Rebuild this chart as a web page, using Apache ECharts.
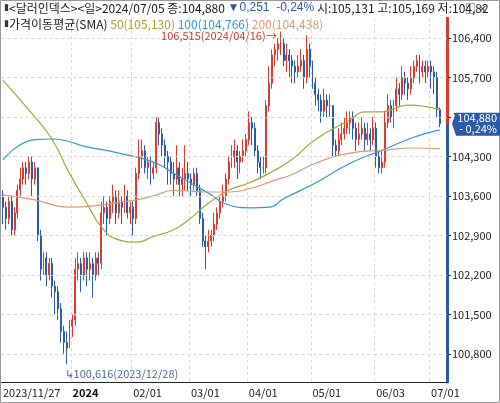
<!DOCTYPE html>
<html>
<head>
<meta charset="utf-8">
<script src="https://cdn.jsdelivr.net/npm/echarts@6/dist/echarts.min.js"></script>
<style>
  html, body { margin: 0; padding: 0; background: #fff; }
  #main { width: 500px; height: 403px; }
</style>
</head>
<body>
<div id="main"></div>
<script>
// 거래일: 2023/11/27 ~ 2024/07/05 (미국 휴장일 제외)
var holidays = ['2023-12-25', '2024-01-01', '2024-01-15', '2024-02-19', '2024-03-29', '2024-05-27', '2024-06-19', '2024-07-04'];
var dates = [];
for (var d = new Date(Date.UTC(2023, 10, 27)); d <= new Date(Date.UTC(2024, 6, 5)); d.setUTCDate(d.getUTCDate() + 1)) {
  var s = d.toISOString().slice(0, 10);
  var wd = d.getUTCDay();
  if (wd !== 0 && wd !== 6 && holidays.indexOf(s) < 0) dates.push(s);
}
// 오른쪽 여백
dates.push(' ', '  ');

// [시가, 종가, 저가, 고가]
var candles = [
  [103.6,103.4,103.1,103.7],[103.4,103.2,103.0,103.5],[103.2,103.5,103.1,103.6],[103.5,103.0,102.9,103.6],[103.0,103.3,102.9,103.4],
  [103.3,103.7,103.2,103.8],[103.7,103.9,103.6,104.1],[103.9,104.1,103.8,104.2],[104.1,104.0,103.8,104.2],[104.0,104.2,103.9,104.3],
  [104.2,103.9,103.6,104.3],[103.9,104.1,103.8,104.2],[104.1,102.9,102.8,104.1],[102.9,102.3,102.1,103.0],[102.3,102.5,102.2,102.6],
  [102.5,102.2,102.0,102.6],[102.2,102.4,102.1,102.5],[102.4,102.0,101.8,102.5],[102.0,101.9,101.5,102.1],[101.9,101.6,101.4,102.0],
  [101.6,101.2,101.0,101.7],[101.2,101.0,100.8,101.3],[101.0,100.9,100.616,101.2],[100.9,101.3,100.9,101.4],
  // 1월
  [101.3,101.4,101.1,101.5],[101.4,102.3,101.3,102.5],[102.3,102.4,102.1,102.6],[102.4,102.2,101.9,102.5],[102.2,102.5,102.1,102.6],
  [102.5,102.3,102.0,102.6],[102.3,102.4,102.1,102.6],[102.4,102.2,101.8,102.5],[102.2,102.5,102.1,102.6],[102.5,102.4,102.2,102.6],
  [102.4,103.3,102.3,103.5],[103.3,103.4,103.1,103.6],[103.4,103.2,102.9,103.5],[103.2,103.5,103.1,103.6],[103.5,103.6,103.3,103.8],
  [103.6,103.3,103.1,103.7],[103.3,103.5,103.2,103.7],[103.5,103.4,103.1,103.6],[103.4,103.6,103.3,103.8],[103.6,103.3,103.2,103.7],
  [103.3,103.4,103.1,103.5],
  // 2월
  [103.4,103.2,102.9,103.5],[103.2,104.0,103.1,104.1],[104.0,104.3,103.9,104.6],[104.3,104.4,104.1,104.6],[104.4,104.1,104.0,104.5],
  [104.1,104.2,103.9,104.3],[104.2,104.0,103.8,104.3],[104.0,104.1,103.9,104.2],[104.1,104.9,104.0,105.0],[104.9,104.7,104.5,105.0],
  [104.7,104.5,104.3,104.8],[104.5,104.3,104.1,104.6],[104.3,104.2,103.8,104.4],[104.2,104.0,103.8,104.3],[104.0,103.9,103.6,104.2],
  [103.9,104.1,103.8,104.5],[104.1,103.8,103.6,104.2],[103.8,103.9,103.6,104.1],[103.9,104.0,103.7,104.5],[104.0,103.9,103.7,104.2],
  // 3월
  [103.9,103.8,103.6,104.0],[103.8,104.0,103.7,104.1],[104.0,103.7,103.6,104.1],[103.7,103.2,103.1,103.8],[103.2,102.8,102.7,103.3],
  [102.8,102.7,102.3,102.9],[102.7,102.8,102.6,103.0],[102.8,102.9,102.7,103.0],[102.9,103.1,102.8,103.3],[103.1,103.3,103.0,103.4],
  [103.3,103.5,103.2,103.6],[103.5,103.6,103.4,103.8],[103.6,103.9,103.5,104.0],[103.9,104.2,103.8,104.3],[104.2,104.3,104.1,104.5],
  [104.3,104.4,104.1,104.6],[104.4,104.2,103.9,104.5],[104.2,104.3,104.0,104.4],[104.3,104.4,104.2,104.6],[104.4,104.6,104.3,104.7],
  // 4월
  [104.6,104.9,104.5,105.1],[104.9,104.8,104.5,105.0],[104.8,104.4,104.3,104.9],[104.4,104.2,104.0,104.5],[104.2,104.1,103.9,104.3],
  [104.1,104.1,104.0,104.3],[104.1,105.2,104.0,105.3],[105.2,105.6,105.1,105.9],[105.6,106.1,105.5,106.2],[106.1,106.2,105.9,106.3],
  [106.2,106.3,106.0,106.4],[106.3,106.3,106.1,106.515],[106.3,106.0,105.9,106.4],[106.0,106.1,105.8,106.3],[106.1,106.0,105.7,106.2],
  [106.0,105.9,105.6,106.1],[105.9,105.8,105.6,106.0],[105.8,105.9,105.7,106.1],[105.9,106.0,105.8,106.2],[106.0,105.7,105.5,106.1],
  [105.7,106.2,105.6,106.45],[106.2,105.9,105.7,106.3],
  // 5월
  [105.9,105.6,105.5,106.0],[105.6,105.4,105.2,105.7],[105.4,105.3,105.1,105.5],[105.3,105.1,104.9,105.4],[105.1,105.3,105.0,105.5],
  [105.3,105.2,105.0,105.4],[105.2,105.2,105.0,105.4],[105.2,104.5,104.3,105.2],[104.5,104.4,104.3,104.6],[104.4,104.6,104.3,104.8],
  [104.6,104.7,104.5,104.9],[104.7,104.8,104.6,105.0],[104.8,104.9,104.7,105.1],[104.9,105.0,104.7,105.1],[105.0,104.8,104.6,105.1],
  [104.8,104.6,104.4,104.9],[104.6,104.7,104.5,104.9],[104.7,104.8,104.6,105.0],[104.8,104.6,104.4,104.9],[104.6,104.7,104.5,104.9],
  [104.7,104.6,104.4,104.8],[104.6,104.8,104.5,105.0],
  // 6월
  [104.8,104.3,104.1,104.9],[104.3,104.1,104.0,104.4],[104.1,104.2,104.0,104.4],[104.2,104.9,104.1,105.1],[104.9,105.2,104.8,105.4],
  [105.2,105.0,104.9,105.3],[105.0,105.2,104.8,105.3],[105.2,105.5,105.1,105.7],[105.5,105.4,105.2,105.6],[105.4,105.7,105.3,105.9],
  [105.7,105.6,105.4,105.8],[105.6,105.5,105.3,105.7],[105.5,105.7,105.4,105.9],[105.7,105.9,105.6,106.0],[105.9,106.0,105.8,106.1],
  [106.0,105.8,105.6,106.1],[105.8,105.9,105.7,106.0],[105.9,105.8,105.6,106.0],[105.8,105.9,105.7,106.0],
  // 7월
  [105.9,105.8,105.5,106.0],[105.8,105.7,105.4,105.9],[105.7,105.13,105.0,105.8],[105.131,104.88,104.82,105.169]
];

// 이동평균 (거래일 인덱스, 값)
var sma50 = [[0,105.65],[11,105.0],[17,104.6],[23,104.0],[29,103.47],[34,103.05],[40,102.82],[46,102.78],[52,102.88],[59,103.0],
  [64,103.17],[71,103.47],[78,103.7],[85,103.83],[92,104.0],[100,104.25],[108,104.6],[120,104.95],[125,105.09],[131,105.09],[140,105.21],[151,105.13]];
var sma100 = [[0,104.24],[11,104.6],[17,104.61],[29,104.47],[40,104.36],[52,104.2],[59,104.0],[71,103.65],[78,103.44],[86,103.39],
  [92,103.4],[97,103.55],[108,103.83],[120,104.18],[131,104.41],[142,104.64],[151,104.77]];
var sma200 = [[0,103.62],[11,103.53],[23,103.4],[34,103.44],[46,103.53],[52,103.6],[59,103.7],[71,103.67],[78,103.67],[86,103.74],
  [94,103.88],[100,103.98],[108,104.18],[120,104.36],[131,104.41],[142,104.45],[151,104.44]];

var yTicks = [100.8, 101.5, 102.2, 102.9, 103.6, 104.3, 105.0, 105.7, 106.4];
var xLabelDates = ['2023-11-27', '2024-01-02', '2024-02-01', '2024-03-01', '2024-04-01', '2024-05-01', '2024-06-03', '2024-07-01'];

var lastClose = 104.88;
var yMin = 100.301, yMax = 106.755;
var stopPos = (yMax - lastClose) / (yMax - yMin);

function fmt(v) { return v.toFixed(3).replace('.', ','); }

var myChart = echarts.init(document.getElementById('main'));
var font = '"Noto Sans CJK KR", sans-serif';

var option = {
  animation: false,
  textStyle: { fontFamily: font },
  grid: { left: -3, right: 53, top: 18, bottom: 21 },
  xAxis: {
    type: 'category',
    data: dates,
    boundaryGap: true,
    axisLine: { lineStyle: { color: '#222', width: 1 } },
    axisTick: { show: false },
    splitLine: {
      show: true,
      interval: function (i, v) { return xLabelDates.indexOf(v) > 0; },
      lineStyle: { color: '#d8d8d8', type: [3, 3] }
    },
    axisLabel: {
      interval: function (i, v) { return xLabelDates.indexOf(v) >= 0; },
      align: 'left',
      margin: 5,
      fontSize: 11,
      color: '#222',
      formatter: function (v) {
        if (v === '2023-11-27') return '2023/11/27';
        if (v === '2024-01-02') return '{b|2024}';
        return v.slice(5).replace('-', '/');
      },
      rich: { b: { fontWeight: 'bold', fontSize: 11, color: '#111' } }
    }
  },
  yAxis: {
    type: 'value',
    position: 'right',
    min: yMin,
    max: yMax,
    scale: true,
    axisLine: {
      show: true,
      lineStyle: {
        width: 3,
        color: new echarts.graphic.LinearGradient(0, 0, 0, 1, [
          { offset: 0, color: '#e03a2e' }, { offset: stopPos, color: '#e03a2e' },
          { offset: stopPos, color: '#2a5aa8' }, { offset: 1, color: '#2a5aa8' }
        ])
      }
    },
    axisTick: { show: true, customValues: yTicks, length: 4, lineStyle: { color: '#333' } },
    splitLine: { show: false },
    axisLabel: { customValues: yTicks, fontSize: 11, color: '#222', margin: 5, formatter: fmt }
  },
  series: [
    {
      type: 'candlestick',
      data: candles,
      barMaxWidth: 2,
      itemStyle: { color: '#e03a2e', color0: '#2a5aa8', borderColor: '#e03a2e', borderColor0: '#2a5aa8', borderWidth: 1 },
      markLine: {
        silent: true,
        symbol: 'none',
        label: { show: false },
        lineStyle: { color: '#d8d8d8', type: [3, 3], width: 1 },
        data: yTicks.map(function (v) { return { yAxis: v }; })
      },
      z: 3
    },
    { type: 'line', data: sma50, smooth: true, symbol: 'none', lineStyle: { color: '#a8a43a', width: 1.2 }, z: 4 },
    { type: 'line', data: sma100, smooth: true, symbol: 'none', lineStyle: { color: '#2f9ad0', width: 1.2 }, z: 4 },
    { type: 'line', data: sma200, smooth: true, symbol: 'none', lineStyle: { color: '#d99a78', width: 1.2 }, z: 4 }
  ]
};
myChart.setOption(option);

var peak = myChart.convertToPixel({ gridIndex: 0 }, [96, 106.515]);
var low = myChart.convertToPixel({ gridIndex: 0 }, [22, 100.616]);
var cur = myChart.convertToPixel({ gridIndex: 0 }, [151, lastClose]);

myChart.setOption({
  graphic: [
    { type: 'rect', shape: { x: 0.5, y: 0.5, width: 499, height: 402 }, style: { fill: 'none', stroke: '#999' }, z: 100 },
    {
      type: 'text', left: 4, top: 2, z: 100,
      style: {
        text: '{m|▮}<달러인덱스><일>2024/07/05 종:104,880 {d|▼0,251  -0,24%} 시:105,131 고:105,169 저:104,82',
        font: '12px ' + font, fill: '#222',
        rich: { m: { fill: '#333', fontSize: 9 }, d: { fill: '#2a5aa8', fontSize: 12 } }
      }
    },
    { type: 'rect', shape: { x: 446, y: 0, width: 54, height: 17 }, style: { fill: '#fff' }, z: 99 },
    { type: 'text', x: 465, y: 3, z: 101, style: { text: '□ ✕', font: '11px ' + font, fill: '#555' } },
    {
      type: 'text', left: 4, top: 18, z: 100,
      style: {
        text: '{m|▮}가격이동평균(SMA) {a|50(105,130)} {b|100(104,766)} {c|200(104,438)}',
        font: '12px ' + font, fill: '#222',
        rich: { m: { fill: '#333', fontSize: 9 }, a: { fill: '#a8a43a' }, b: { fill: '#2f9ad0' }, c: { fill: '#d99a78' } }
      }
    },
    {
      type: 'text', x: peak[0] - 4, y: peak[1] + 4, z: 100,
      style: { text: '106,515(2024/04/16)→', font: '11px ' + font, fill: '#d03a2e', align: 'right', verticalAlign: 'middle' }
    },
    {
      type: 'text', x: low[0] - 2, y: low[1] + 10, z: 100,
      style: { text: '↳100,616(2023/12/28)', font: '11px ' + font, fill: '#4a6a9a', align: 'left', verticalAlign: 'middle' }
    },
    {
      type: 'polygon', z: 100,
      shape: { points: [[452, cur[1]], [456, cur[1] - 11], [500, cur[1] - 11], [500, cur[1] + 12], [456, cur[1] + 12]] },
      style: { fill: '#2a5aa8' }
    },
    {
      type: 'text', x: 497, y: cur[1], z: 101,
      style: { text: '104,880\n- 0,24%', font: '11px ' + font, lineHeight: 11, fill: '#fff', align: 'right', verticalAlign: 'middle' }
    }
  ]
});
</script>
</body>
</html>
